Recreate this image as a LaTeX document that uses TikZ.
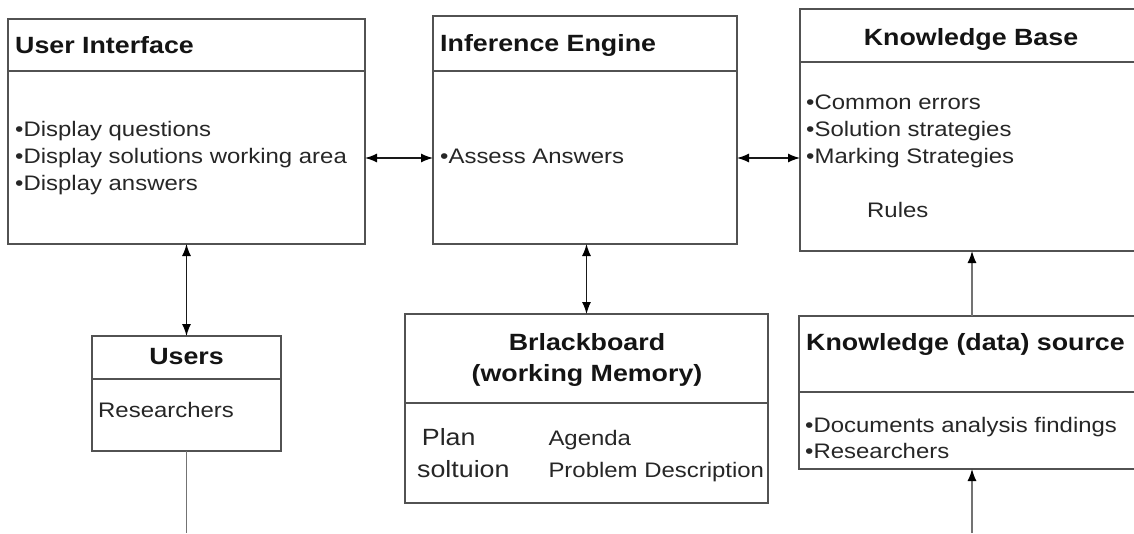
\documentclass[tikz,border=0pt]{standalone}
\usepackage{fontspec}
\setmainfont{Liberation Sans}[FakeStretch=1.14]
\usetikzlibrary{arrows.meta}
\begin{document}
\begin{tikzpicture}[x=1pt,y=-1pt,
  box/.style={draw=black!68, line width=1.3pt, rectangle, inner sep=0pt, outer sep=0pt, anchor=north west},
  divider/.style={draw=black!68, line width=1.3pt},
  ttl/.style={font=\fontsize{23.5}{31}\selectfont\bfseries, text=black!92, inner sep=0pt},
  txt/.style={font=\fontsize{21}{27}\selectfont, text=black!85, inner sep=0pt, anchor=base west},
  bigtxt/.style={font=\fontsize{23.5}{31}\selectfont, text=black!85, inner sep=0pt, anchor=base west},
  conn/.style={draw=black!90, line width=1.3pt},
  grayconn/.style={draw=black!55, line width=1.3pt},
  tip/.tip={Latex[length=12pt,width=9pt,black]},
  both/.style={conn, tip-tip},
  one/.style={grayconn, -tip}
]
\useasboundingbox (0,0) rectangle (1134,533);

% boxes
\node[box, minimum width=357pt, minimum height=225pt] (ui) at (8,19) {};
\node[box, minimum width=304pt, minimum height=228pt] (ie) at (433,16) {};
\node[box, minimum width=345pt, minimum height=242pt] (kb) at (800,9) {};
\node[box, minimum width=189pt, minimum height=115pt] (us) at (92,336) {};
\node[box, minimum width=363pt, minimum height=189pt] (bb) at (405,314) {};
\node[box, minimum width=346pt, minimum height=153pt] (ks) at (799,316) {};

% dividers
\draw[divider] (ui.west |- 0,71) -- (ui.east |- 0,71);
\draw[divider] (ie.west |- 0,71) -- (ie.east |- 0,71);
\draw[divider] (kb.west |- 0,62) -- (kb.east |- 0,62);
\draw[divider] (us.west |- 0,379) -- (us.east |- 0,379);
\draw[divider] (bb.west |- 0,403) -- (bb.east |- 0,403);
\draw[divider] (ks.west |- 0,392) -- (ks.east |- 0,392);

% User Interface
\node[ttl, anchor=base west] (uit) at (15,53) {User Interface};
\node[txt] (ui1) at (15,136) {•Display questions};
\node[txt] (ui2) at (15,163.5) {•Display solutions working area};
\node[txt] (ui3) at (15,190.5) {•Display answers};

% Inference Engine
\node[ttl, anchor=base west] (iet) at (440,51.7) {Inference Engine};
\node[txt] (ia) at (440,163.3) {•Assess Answers};

% Knowledge Base
\node[ttl, anchor=base] (kbt) at (971,45) {Knowledge Base};
\node[txt] (kb1) at (806,109) {•Common errors};
\node[txt] (kb2) at (806,136) {•Solution strategies};
\node[txt] (kb3) at (806,163) {•Marking Strategies};
\node[txt] (kb4) at (867,217.5) {Rules};

% Users
\node[ttl, anchor=base] (ust) at (186.5,364) {Users};
\node[txt] (us1) at (98,417) {Researchers};

% Blackboard
\node[ttl, anchor=base] (bbt1) at (587,350) {Brlackboard};
\node[ttl, anchor=base] (bbt2) at (587,381.5) {(working Memory)};
\node[bigtxt] (bb1) at (421.7,445.7) {Plan};
\node[bigtxt] (bb2) at (417,477) {soltuion};
\node[txt] (bb3) at (548.3,445.7) {Agenda};
\node[txt] (bb4) at (548.3,477) {Problem Description};

% Knowledge source
\node[ttl, anchor=base west] (kst) at (806,350) {Knowledge (data) source};
\node[txt] (ks1) at (805,432.7) {•Documents analysis findings};
\node[txt] (ks2) at (805,458.3) {•Researchers};

% connectors
\coordinate (row) at (0,158);
\coordinate (kcol) at (972,0);
\coordinate (uout) at (186.5,533);
\coordinate (ksin) at (972,533);
\draw[both] (ui.east |- row) -- (ie.west |- row);
\draw[both] (ie.east |- row) -- (kb.west |- row);
\draw[both] (ui.south) -- (us.north);
\draw[both] (bb.north |- ie.south) -- (bb.north);
\draw[one] (kcol |- ks.north) -- (kcol |- kb.south);
\draw[one] (ksin) -- (kcol |- ks.south);
\draw[grayconn] (us.south) -- (uout);
\end{tikzpicture}
\end{document}
